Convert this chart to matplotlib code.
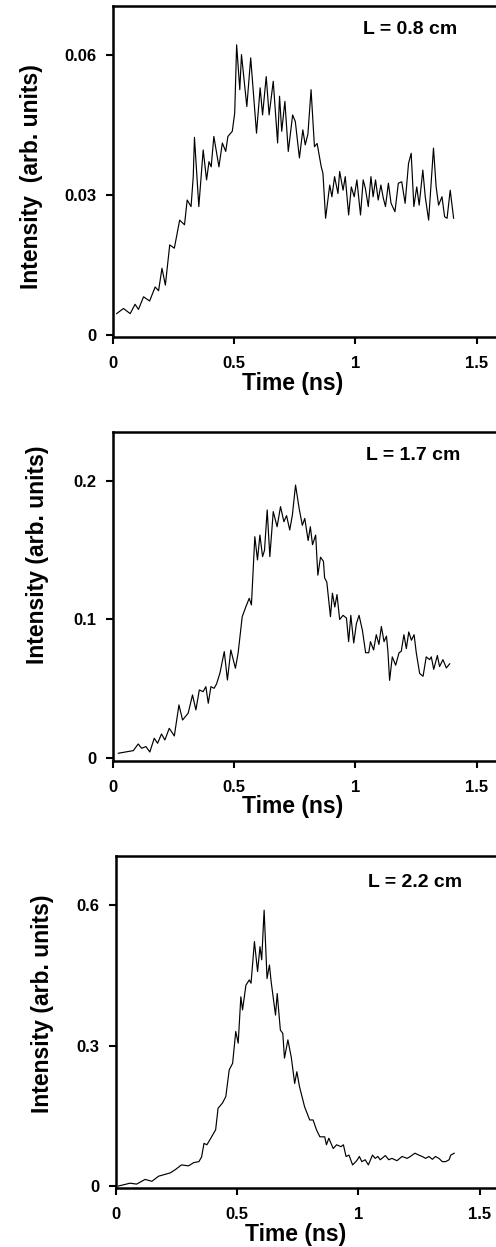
import matplotlib
matplotlib.use("Agg")
import matplotlib.pyplot as plt

# Dados (tempo em ns, intensidade em unidades arbitrárias)

# L = 0.8 cm
t1 = [0.015, 0.043, 0.071, 0.091, 0.105, 0.126, 0.151, 0.174, 0.188, 0.202,
      0.216, 0.234, 0.253, 0.275, 0.295, 0.306, 0.322, 0.331, 0.336, 0.354,
      0.372, 0.386, 0.396, 0.405, 0.416, 0.437, 0.451, 0.465, 0.474, 0.492,
      0.502, 0.510, 0.523, 0.530, 0.552, 0.568, 0.592, 0.607, 0.617, 0.632,
      0.644, 0.661, 0.679, 0.687, 0.696, 0.709, 0.723, 0.741, 0.752, 0.769,
      0.783, 0.793, 0.804, 0.817, 0.831, 0.842, 0.859, 0.866, 0.877, 0.894,
      0.903, 0.914, 0.928, 0.935, 0.949, 0.958, 0.972, 0.983, 0.995, 1.006,
      1.021, 1.032, 1.041, 1.053, 1.064, 1.073, 1.083, 1.094, 1.105, 1.115,
      1.124, 1.136, 1.147, 1.163, 1.177, 1.191, 1.205, 1.219, 1.230, 1.241,
      1.253, 1.263, 1.278, 1.288, 1.302, 1.315, 1.322, 1.333, 1.343, 1.357,
      1.368, 1.378, 1.391, 1.405]
i1 = [0.0046, 0.0057, 0.0046, 0.0066, 0.0055, 0.0082, 0.0073, 0.0103, 0.0095, 0.0143,
      0.0107, 0.0193, 0.0186, 0.0246, 0.0236, 0.0289, 0.0275, 0.0339, 0.0423, 0.0275,
      0.0396, 0.0332, 0.0371, 0.0360, 0.0425, 0.0360, 0.0411, 0.0393, 0.0425, 0.0436,
      0.0475, 0.0621, 0.0525, 0.0600, 0.0489, 0.0593, 0.0432, 0.0529, 0.0471, 0.0553,
      0.0471, 0.0543, 0.0411, 0.0511, 0.0436, 0.0500, 0.0393, 0.0471, 0.0457, 0.0379,
      0.0439, 0.0407, 0.0430, 0.0525, 0.0403, 0.0410, 0.0360, 0.0346, 0.0250, 0.0321,
      0.0296, 0.0339, 0.0303, 0.0350, 0.0310, 0.0339, 0.0257, 0.0317, 0.0296, 0.0332,
      0.0257, 0.0332, 0.0314, 0.0275, 0.0339, 0.0296, 0.0332, 0.0289, 0.0321, 0.0293,
      0.0275, 0.0325, 0.0282, 0.0264, 0.0325, 0.0328, 0.0282, 0.0367, 0.0389, 0.0275,
      0.0317, 0.0278, 0.0353, 0.0296, 0.0246, 0.0346, 0.0400, 0.0317, 0.0278, 0.0296,
      0.0253, 0.0250, 0.0310, 0.0250]

# L = 1.7 cm
t2 = [0.022, 0.084, 0.104, 0.118, 0.136, 0.152, 0.170, 0.184, 0.200, 0.214,
      0.232, 0.253, 0.272, 0.287, 0.310, 0.328, 0.342, 0.356, 0.372, 0.383,
      0.393, 0.404, 0.417, 0.427, 0.441, 0.459, 0.472, 0.486, 0.505, 0.516,
      0.533, 0.548, 0.562, 0.571, 0.585, 0.596, 0.606, 0.617, 0.625, 0.636,
      0.647, 0.661, 0.677, 0.691, 0.705, 0.716, 0.729, 0.740, 0.753, 0.768,
      0.781, 0.791, 0.805, 0.814, 0.823, 0.836, 0.845, 0.856, 0.868, 0.873,
      0.882, 0.897, 0.905, 0.915, 0.924, 0.935, 0.949, 0.963, 0.972, 0.981,
      0.993, 1.004, 1.015, 1.029, 1.042, 1.055, 1.062, 1.075, 1.086, 1.097,
      1.107, 1.118, 1.128, 1.134, 1.141, 1.152, 1.166, 1.180, 1.189, 1.200,
      1.210, 1.220, 1.231, 1.242, 1.251, 1.265, 1.279, 1.292, 1.306, 1.313,
      1.323, 1.338, 1.347, 1.361, 1.375, 1.389]
i2 = [0.0034, 0.0053, 0.0101, 0.0070, 0.0082, 0.0043, 0.0142, 0.0106, 0.0173, 0.0130,
      0.0214, 0.0159, 0.0383, 0.0274, 0.0323, 0.0455, 0.0347, 0.0491, 0.0479, 0.0515,
      0.0395, 0.0515, 0.0503, 0.0534, 0.0612, 0.0768, 0.0563, 0.0780, 0.0648, 0.0756,
      0.1020, 0.1092, 0.1153, 0.1105, 0.1598, 0.1430, 0.1610, 0.1454, 0.1500, 0.1791,
      0.1454, 0.1779, 0.1670, 0.1815, 0.1706, 0.1750, 0.1646, 0.1755, 0.1971, 0.1800,
      0.1680, 0.1730, 0.1570, 0.1670, 0.1540, 0.1610, 0.1320, 0.1450, 0.1420, 0.1300,
      0.1270, 0.1020, 0.1190, 0.1090, 0.1180, 0.1000, 0.1030, 0.1010, 0.0840, 0.1030,
      0.0830, 0.0970, 0.1030, 0.0920, 0.0760, 0.0760, 0.0840, 0.0780, 0.0890, 0.0820,
      0.0950, 0.0840, 0.0880, 0.0770, 0.0560, 0.0730, 0.0670, 0.0760, 0.0770, 0.0890,
      0.0790, 0.0910, 0.0850, 0.0890, 0.0760, 0.0610, 0.0590, 0.0730, 0.0710, 0.0730,
      0.0640, 0.0740, 0.0660, 0.0710, 0.0650, 0.0680]

# L = 2.2 cm
t3 = [0.010, 0.035, 0.058, 0.085, 0.120, 0.148, 0.176, 0.190, 0.224, 0.245,
      0.270, 0.299, 0.321, 0.342, 0.353, 0.363, 0.375, 0.391, 0.411, 0.421,
      0.439, 0.453, 0.467, 0.481, 0.494, 0.504, 0.515, 0.522, 0.536, 0.550,
      0.557, 0.571, 0.584, 0.594, 0.601, 0.611, 0.623, 0.633, 0.640, 0.658,
      0.665, 0.678, 0.688, 0.695, 0.709, 0.723, 0.737, 0.746, 0.757, 0.778,
      0.799, 0.813, 0.827, 0.841, 0.861, 0.868, 0.878, 0.896, 0.910, 0.928,
      0.938, 0.949, 0.961, 0.976, 0.993, 1.004, 1.014, 1.028, 1.041, 1.058,
      1.069, 1.080, 1.090, 1.111, 1.125, 1.138, 1.159, 1.180, 1.201, 1.214,
      1.233, 1.249, 1.263, 1.277, 1.291, 1.305, 1.318, 1.332, 1.346, 1.360,
      1.374, 1.381, 1.395]
i3 = [0.000, 0.003, 0.006, 0.004, 0.014, 0.010, 0.021, 0.023, 0.028, 0.035,
      0.045, 0.043, 0.050, 0.052, 0.062, 0.091, 0.088, 0.102, 0.120, 0.166,
      0.177, 0.191, 0.248, 0.262, 0.330, 0.305, 0.404, 0.376, 0.429, 0.440,
      0.433, 0.522, 0.458, 0.511, 0.483, 0.589, 0.443, 0.472, 0.436, 0.365,
      0.411, 0.333, 0.326, 0.273, 0.312, 0.275, 0.219, 0.244, 0.212, 0.169,
      0.141, 0.141, 0.120, 0.105, 0.105, 0.088, 0.102, 0.080, 0.088, 0.084,
      0.088, 0.063, 0.066, 0.045, 0.054, 0.063, 0.052, 0.056, 0.045, 0.066,
      0.059, 0.063, 0.056, 0.065, 0.056, 0.059, 0.054, 0.063, 0.059, 0.063,
      0.070, 0.066, 0.063, 0.059, 0.063, 0.057, 0.063, 0.059, 0.052, 0.052,
      0.056, 0.066, 0.070]

rotulos = ["L = 0.8 cm", "L = 1.7 cm", "L = 2.2 cm"]
xticks = [0, 0.5, 1, 1.5]
xticklabels = ["0", "0.5", "1", "1.5"]
yticks = [[0, 0.03, 0.06], [0, 0.1, 0.2], [0, 0.3, 0.6]]
yticklabels = [["0", "0.03", "0.06"], ["0", "0.1", "0.2"], ["0", "0.3", "0.6"]]
ylims = [(-0.0004, 0.0704), (-0.0022, 0.2354), (-0.0043, 0.7047)]
ylabels = ["Intensity  (arb. units)", "Intensity (arb. units)", "Intensity (arb. units)"]

plt.rcParams["font.family"] = ["Liberation Sans", "DejaVu Sans"]
plt.rcParams["font.weight"] = "bold"

W, H = 496, 1247
fig = plt.figure(figsize=(W / 100, H / 100), dpi=100)

# posições dos eixos em pixels: (esquerda, topo, base)
caixas = [(113, 6, 337), (113, 432, 761), (116, 856, 1188)]
largura = 400  # passa da borda direita da figura, como no original
ylab_y = [0.486, 0.626, 0.554]
ylab_x = [-0.2025, -0.1875, -0.1825]
txt_pos = [(0.7425, 0.9275), (0.75, 0.930), (0.7475, 0.919)]

series = [(t1, i1), (t2, i2), (t3, i3)]

for k in range(3):
    esq, topo, base = caixas[k]
    ax = fig.add_axes([esq / W, 1 - base / H, largura / W, (base - topo) / H])
    t, y = series[k]
    ax.plot(t, y, color="black", linewidth=0.85)
    ax.set_xlim(0, 1.65)
    ax.set_ylim(*ylims[k])
    ax.set_xticks(xticks)
    ax.set_xticklabels(xticklabels, fontsize=12, fontweight="bold")
    ax.set_yticks(yticks[k])
    ax.set_yticklabels(yticklabels[k], fontsize=12, fontweight="bold")
    ax.tick_params(direction="out", length=5, width=1.5)
    ax.tick_params(axis="x", pad=9)
    ax.tick_params(axis="y", pad=7)
    for s in ax.spines.values():
        s.set_linewidth(1.8)
    ax.set_xlabel("Time (ns)", fontsize=16.5, fontweight="bold", va="center")
    ax.xaxis.set_label_coords(0.45, -0.139)
    ax.set_ylabel(ylabels[k], fontsize=16.5, fontweight="bold", va="center")
    ax.yaxis.set_label_coords(ylab_x[k], ylab_y[k])
    ax.text(txt_pos[k][0], txt_pos[k][1], rotulos[k], transform=ax.transAxes,
            ha="center", va="center", fontsize=14, fontweight="bold")

fig.savefig("out.png", dpi=100)
